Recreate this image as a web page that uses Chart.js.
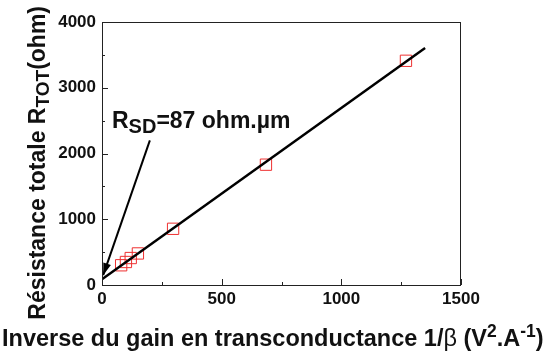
<!DOCTYPE html>
<html>
<head>
<meta charset="utf-8">
<script src="https://cdn.jsdelivr.net/npm/chart.js@4/dist/chart.umd.min.js"></script>
<style>
  html, body { margin: 0; padding: 0; background: #fff; }
</style>
</head>
<body>
<canvas id="rtotChart" width="552" height="354"></canvas>
<script>
// Résistance totale vs inverse du gain
const invBeta = [80, 100, 120, 150, 297, 685, 1270];
const rTot = [300, 350, 410, 480, 855, 1830, 3410];
const fitX = [0, 1350];
const fitY = [87, 3605];
const xTicks = [0, 500, 1000, 1500];
const yTicks = [0, 1000, 2000, 3000, 4000];
const arrowX = [200, 5];
const arrowY = [2200, 150];

const FONT = '"Liberation Sans", Arial, sans-serif';
const INK = '#111';

function drawRuns(ctx, runs, x, y) {
    for (const r of runs) {
        ctx.font = r.f;
        ctx.fillText(r.t, x, y + (r.dy || 0));
        x += ctx.measureText(r.t).width;
    }
    return x;
}
function runsWidth(ctx, runs) {
    let w = 0;
    for (const r of runs) { ctx.font = r.f; w += ctx.measureText(r.t).width; }
    return w;
}

const decor = {
    id: 'decor',
    afterDraw(chart) {
        const { ctx, chartArea: a, scales: { x, y } } = chart;
        ctx.save();
        // cadre
        ctx.strokeStyle = '#222';
        ctx.lineWidth = 1;
        ctx.strokeRect(a.left + 0.5, a.top + 0.5, a.right - a.left - 1, a.bottom - a.top);
        // graduations vers l'intérieur
        ctx.beginPath();
        for (let v = 0; v <= 1500; v += 250) {
            const px = Math.round(x.getPixelForValue(v)) + 0.5;
            const len = v % 500 ? 3 : 6;
            ctx.moveTo(px, a.bottom);
            ctx.lineTo(px, a.bottom - len);
        }
        for (let v = 0; v <= 4000; v += 500) {
            const py = Math.round(y.getPixelForValue(v)) + 0.5;
            const len = v % 1000 ? 3 : 6;
            ctx.moveTo(a.left, py);
            ctx.lineTo(a.left + len, py);
        }
        ctx.stroke();

        // pointe de flèche
        const x0 = x.getPixelForValue(arrowX[0]), y0 = y.getPixelForValue(arrowY[0]);
        const x1 = x.getPixelForValue(arrowX[1]), y1 = y.getPixelForValue(arrowY[1]);
        const ang = Math.atan2(y1 - y0, x1 - x0);
        ctx.fillStyle = '#000';
        ctx.beginPath();
        ctx.moveTo(x1, y1);
        ctx.lineTo(x1 - 12 * Math.cos(ang) + 4 * Math.sin(ang), y1 - 12 * Math.sin(ang) - 4 * Math.cos(ang));
        ctx.lineTo(x1 - 12 * Math.cos(ang) - 4 * Math.sin(ang), y1 - 12 * Math.sin(ang) + 4 * Math.cos(ang));
        ctx.closePath();
        ctx.fill();

        ctx.fillStyle = INK;
        ctx.textBaseline = 'alphabetic';
        ctx.textAlign = 'left';

        // annotation
        drawRuns(ctx, [
            { t: 'R', f: 'bold 23px ' + FONT },
            { t: 'SD', f: 'bold 20px ' + FONT, dy: 5 },
            { t: '=87 ohm.µm', f: 'bold 23px ' + FONT }
        ], 112, 128);

        // titre axe y
        const yRuns = [
            { t: 'Résistance totale R', f: 'bold 23px ' + FONT },
            { t: 'TOT', f: 'bold 19px ' + FONT, dy: 4 },
            { t: '(ohm)', f: 'bold 23px ' + FONT }
        ];
        const yw = runsWidth(ctx, yRuns);
        ctx.save();
        ctx.beginPath();
        ctx.rect(0, 0, 60, 326);
        ctx.clip();
        ctx.translate(45, 6 + Math.max(yw, 324));
        ctx.rotate(-Math.PI / 2);
        drawRuns(ctx, yRuns, Math.max(0, 324 - yw), 0);
        ctx.restore();

        // titre axe x
        drawRuns(ctx, [
            { t: 'Inverse du gain en transconductance 1/', f: 'bold 23.5px ' + FONT },
            { t: 'β', f: '23.5px ' + FONT },
            { t: ' (V', f: 'bold 23.5px ' + FONT },
            { t: '2', f: 'bold 17.5px ' + FONT, dy: -9 },
            { t: '.A', f: 'bold 23.5px ' + FONT },
            { t: '-1', f: 'bold 17.5px ' + FONT, dy: -9 },
            { t: ')', f: 'bold 23.5px ' + FONT }
        ], 2, 346);
        ctx.restore();
    }
};

const ctx = document.getElementById('rtotChart').getContext('2d');
const rtotChart = new Chart(ctx, {
    type: 'scatter',
    data: {
        datasets: [{
            label: 'Mesures',
            data: invBeta.map((v, i) => ({ x: v, y: rTot[i] })),
            pointStyle: 'rect',
            pointRadius: 8,
            pointHoverRadius: 8,
            borderColor: '#ee3030',
            backgroundColor: 'rgba(0,0,0,0)',
            borderWidth: 1,
            order: 2
        }, {
            label: 'Ajustement',
            data: fitX.map((v, i) => ({ x: v, y: fitY[i] })),
            showLine: true,
            borderColor: '#000',
            borderWidth: 2.5,
            pointRadius: 0,
            order: 1
        }, {
            label: 'Flèche',
            data: arrowX.map((v, i) => ({ x: v, y: arrowY[i] })),
            showLine: true,
            borderColor: '#000',
            borderWidth: 2,
            pointRadius: 0,
            order: 0
        }]
    },
    options: {
        responsive: false,
        animation: false,
        devicePixelRatio: 1,
        layout: { padding: { left: 0, top: 22, right: 91, bottom: 0 } },
        plugins: {
            legend: { display: false },
            tooltip: { enabled: false }
        },
        scales: {
            x: {
                type: 'linear',
                min: 0,
                max: 1500,
                afterBuildTicks: s => { s.ticks = xTicks.map(v => ({ value: v })); },
                afterFit: s => { s.height = 69; },
                ticks: {
                    color: INK,
                    padding: 4,
                    maxRotation: 0,
                    callback: v => String(v),
                    font: { family: FONT, size: 17, weight: 'bold' }
                },
                grid: { display: false, drawTicks: false },
                border: { display: false }
            },
            y: {
                type: 'linear',
                min: 0,
                max: 4000,
                afterBuildTicks: s => { s.ticks = yTicks.map(v => ({ value: v })); },
                afterFit: s => { s.width = 102; },
                ticks: {
                    color: INK,
                    padding: 6,
                    callback: v => String(v),
                    font: { family: FONT, size: 17, weight: 'bold' }
                },
                grid: { display: false, drawTicks: false },
                border: { display: false }
            }
        }
    },
    plugins: [decor]
});
</script>
</body>
</html>
